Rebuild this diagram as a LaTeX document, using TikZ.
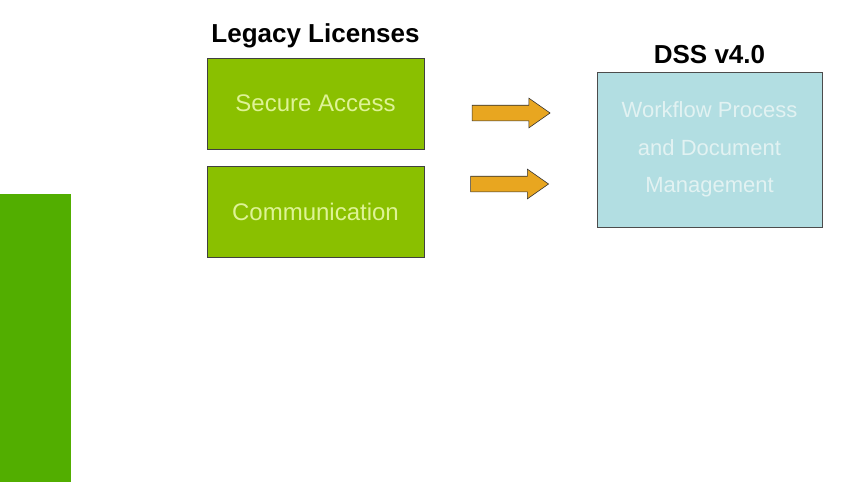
\documentclass[tikz,border=0pt]{standalone}
\usepackage{fontspec}
\setmainfont{Liberation Sans}
\usetikzlibrary{positioning,shapes.arrows}
\definecolor{legacygreen}{RGB}{138,192,0}
\definecolor{legacytext}{RGB}{222,243,150}
\definecolor{sidegreen}{RGB}{82,174,0}
\definecolor{dssblue}{RGB}{178,222,226}
\definecolor{dsstext}{RGB}{226,242,242}
\definecolor{arroworange}{RGB}{232,166,32}

\begin{document}
\begin{tikzpicture}[x=1pt,y=-1pt,
    licbox/.style={draw=black!75,line width=0.8pt,fill=legacygreen,
      minimum width=217pt,minimum height=91pt,inner sep=0pt,
      font=\fontsize{24}{28}\selectfont\color{legacytext}},
    headline/.style={font=\fontsize{26}{30}\selectfont\bfseries},
    fatarrow/.style={single arrow,draw=black!80,line width=0.6pt,fill=arroworange,
      minimum height=78pt,inner xsep=0pt,inner ysep=7.5pt,
      single arrow head extend=7pt,single arrow tip angle=70}]
  \useasboundingbox (0,0) rectangle (846,482);
  % side bar
  \fill[sidegreen] (0,194) rectangle (71,482);
  % legacy licenses
  \node[licbox] (secure) at (315.5,103.5) {Secure Access};
  \node[licbox,below=17pt of secure] (comm) {Communication};
  \node[headline,above=6pt of secure] (legacy) {Legacy Licenses};
  % dss
  \node[draw=black!70,line width=0.8pt,fill=dssblue,
        minimum width=225pt,minimum height=155pt,align=center,
        font=\fontsize{22}{37.5}\selectfont\color{dsstext}]
    (dss) at (709.5,149.5) {Workflow Process\\and Document\\Management};
  \node[headline,above=4pt of dss] (dsstitle) {DSS v4.0};
  % arrows
  \node[fatarrow] (arr1) at (505.5,113) {};
  \node[fatarrow] (arr2) at (504,184) {};
\end{tikzpicture}
\end{document}
